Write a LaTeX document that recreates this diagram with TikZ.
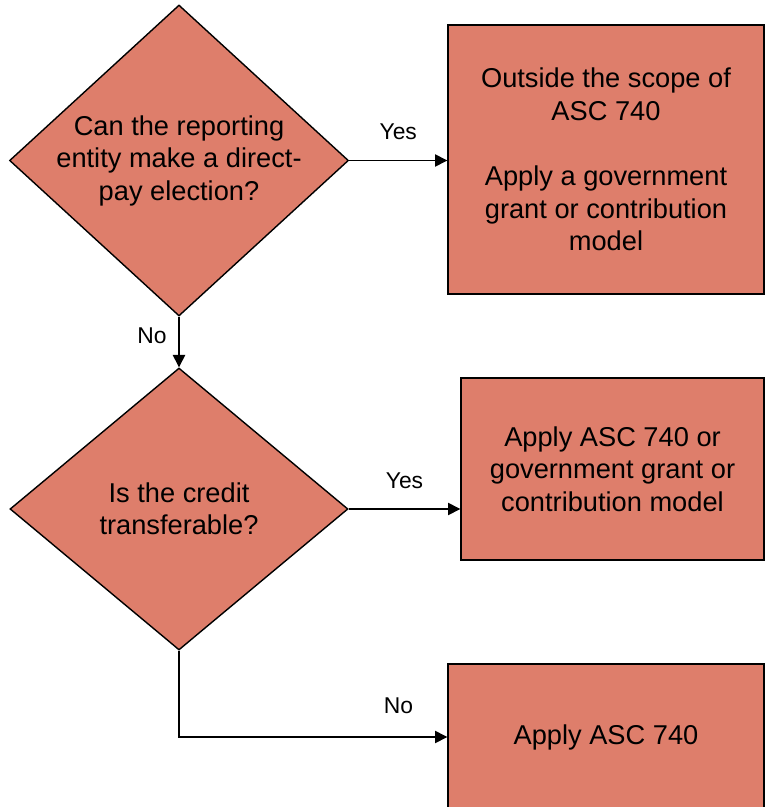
\documentclass[tikz,border=0pt]{standalone}
\usepackage{fontspec}
\setmainfont{Liberation Sans}
\usetikzlibrary{shapes.geometric,arrows.meta}
\definecolor{salmon}{RGB}{222,126,107}

\begin{document}
\begin{tikzpicture}[
	decision/.style={ diamond, draw, line width=0.8pt, fill=salmon, inner sep=0pt },
	question/.style={ align=center, font=\fontsize{15.5}{18.5}\selectfont },
	outcome/.style={ rectangle, draw, line width=0.8pt, fill=salmon, inner sep=0pt, align=center, font=\fontsize{15.5}{18.5}\selectfont },
	flow/.style={ line width=0.8pt, -{Triangle[length=7pt,width=7pt]} },
	answer/.style={ font=\fontsize{13}{15}\selectfont }
]

\clip (0,0) rectangle (15.34,-16.14);

\node at (3.58,-3.21) (Q1) [decision, minimum width=6.78cm, minimum height=6.22cm] {};
\node at (Q1.center) (Q1text) [question] {Can the reporting\\entity make a direct-\\pay election?};
\node at (3.58,-10.18) (Q2) [decision, minimum width=6.76cm, minimum height=5.64cm] {};
\node at (Q2.center) (Q2text) [question] {Is the credit\\transferable?};
\node at (12.12,-3.19) (Out) [outcome, minimum width=6.32cm, minimum height=5.38cm] {Outside the scope of\\ASC 740\\[18.5pt]Apply a government\\grant or contribution\\model};
\node at (12.25,-9.38) (Either) [outcome, minimum width=6.06cm, minimum height=3.64cm] {Apply ASC 740 or\\government grant or\\contribution model};
\node at (12.12,-14.74) (Asc) [outcome, minimum width=6.32cm, minimum height=2.92cm] {Apply ASC 740};

\draw[flow] (Q1.east) -- node[answer, midway, yshift=0.58cm] {Yes} (Q1.east -| Out.west);
\draw[flow] (Q1.south) -- node[answer, midway, xshift=-0.54cm, yshift=0.12cm] {No} (Q2.north);
\draw[flow] (Q2.east) -- node[answer, midway, yshift=0.56cm] {Yes} (Q2.east -| Either.west);
\draw[flow] (Q2.south) |- node[answer, pos=0.909, yshift=0.62cm] {No} (Asc.west);

\end{tikzpicture}
\end{document}
